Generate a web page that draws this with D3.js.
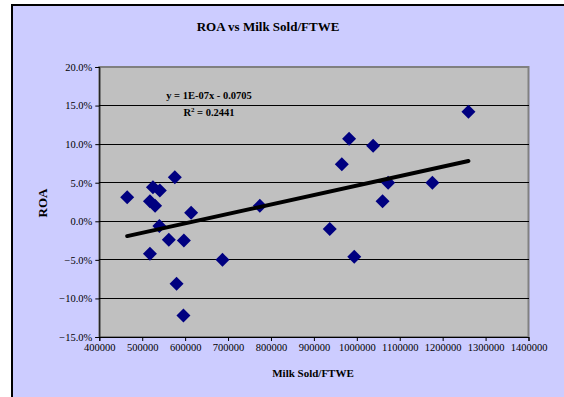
<!DOCTYPE html>
<html><head><meta charset="utf-8">
<script src="https://cdn.jsdelivr.net/npm/d3@7"></script>
<style>
html,body{margin:0;padding:0;background:#fff;}
svg{display:block;}
text{font-family:"Liberation Serif","Times New Roman",serif;fill:#000;}
</style></head><body>
<svg id="c" width="564" height="397"></svg>
<script>
const milkSold = [465000, 525000, 541000, 576000, 518000, 530000, 614000, 540000, 562000, 597000, 518000, 580000, 596000, 687000, 774000, 937000, 965000, 982000, 1038000, 1073000, 1060000, 1176000, 1260000, 994000];
const roa = [0.031, 0.044, 0.040, 0.057, 0.026, 0.020, 0.011, -0.006, -0.024, -0.025, -0.042, -0.081, -0.122, -0.050, 0.020, -0.010, 0.074, 0.107, 0.098, 0.050, 0.026, 0.050, 0.142, -0.046];
const xTicks = [400000, 500000, 600000, 700000, 800000, 900000, 1000000, 1100000, 1200000, 1300000, 1400000];
const yTicks = [-0.15, -0.10, -0.05, 0, 0.05, 0.10, 0.15, 0.20];
const titleText = "ROA vs Milk Sold/FTWE";
const xTitle = "Milk Sold/FTWE";
const yTitle = "ROA";
const eqLine1 = "y = 1E-07x - 0.0705";
const eqLine2 = "0.2441";

const svg = d3.select("#c");
// outer chart area
svg.append("rect").attr("x",12).attr("y",5).attr("width",560).attr("height",400)
  .attr("fill","#CCCCFF").attr("stroke","#000").attr("stroke-width",2);

const L=99.3, R=528.5, T=67, B=337;
const x = d3.scaleLinear().domain([400000,1400000]).range([L,R]);
const y = d3.scaleLinear().domain([-0.15,0.20]).range([B,T]);

// plot area
svg.append("rect").attr("x",L).attr("y",T).attr("width",R-L).attr("height",B-T)
  .attr("fill","#C0C0C0").attr("stroke","#808080").attr("stroke-width",2);

// gridlines
svg.append("g").selectAll("line").data(yTicks.filter(d=>d>-0.15 && d<0.2)).join("line")
  .attr("x1",L).attr("x2",R).attr("y1",d=>y(d)).attr("y2",d=>y(d))
  .attr("stroke","#000").attr("stroke-width",1).attr("shape-rendering","crispEdges");

// axes
const yAxis = d3.axisLeft(y).tickValues(yTicks).tickFormat(d3.format(".1%")).tickSize(4).tickPadding(3);
const gy = svg.append("g").attr("transform",`translate(${L},0)`).call(yAxis);
gy.selectAll("text").attr("font-size","10.5px").attr("font-family","Liberation Serif");
gy.selectAll("path,line").attr("stroke","#000");

const xAxis = d3.axisBottom(x).tickValues(xTicks).tickFormat(d3.format("d")).tickSize(4).tickPadding(3);
const gx = svg.append("g").attr("transform",`translate(0,${B})`).call(xAxis);
gx.selectAll("text").attr("font-size","10.5px").attr("font-family","Liberation Serif");
gx.selectAll("path,line").attr("stroke","#000");

// points
const diamond = d3.symbol().type(d3.symbolSquare).size(98);
svg.append("g").selectAll("path").data(milkSold.map((m,i)=>[m,roa[i]])).join("path")
  .attr("d",diamond)
  .attr("transform",d=>`translate(${x(d[0])},${y(d[1])}) rotate(45)`)
  .attr("fill","#000080");

// trendline (least squares)
const n=milkSold.length;
const mx=d3.mean(milkSold), my=d3.mean(roa);
let sxy=0,sxx=0;
for(let i=0;i<n;i++){sxy+=(milkSold[i]-mx)*(roa[i]-my);sxx+=(milkSold[i]-mx)**2;}
const slope=sxy/sxx, icpt=my-slope*mx;
const x0=d3.min(milkSold), x1=d3.max(milkSold);
svg.append("line").attr("x1",x(x0)).attr("y1",y(slope*x0+icpt))
  .attr("x2",x(x1)).attr("y2",y(slope*x1+icpt))
  .attr("stroke","#000").attr("stroke-width",4).attr("stroke-linecap","round");

// equation labels
svg.append("text").attr("x",209).attr("y",99).attr("text-anchor","middle")
  .attr("font-size","10.5px").attr("font-weight","bold").text(eqLine1);
const r2 = svg.append("text").attr("x",209).attr("y",116).attr("text-anchor","middle")
  .attr("font-size","10.5px").attr("font-weight","bold");
r2.append("tspan").text("R");
r2.append("tspan").attr("dy",-4).attr("font-size","7px").text("2");
r2.append("tspan").attr("dy",4).text(" = " + eqLine2);

// titles
svg.append("text").attr("x",268).attr("y",31).attr("text-anchor","middle")
  .attr("font-size","13px").attr("font-weight","bold").text(titleText);
svg.append("text").attr("x",313).attr("y",377).attr("text-anchor","middle")
  .attr("font-size","11px").attr("font-weight","bold").text(xTitle);
svg.append("text").attr("transform","translate(47,203) rotate(-90)").attr("text-anchor","middle")
  .attr("font-size","13px").attr("font-weight","bold").text(yTitle);
</script>
</body></html>
